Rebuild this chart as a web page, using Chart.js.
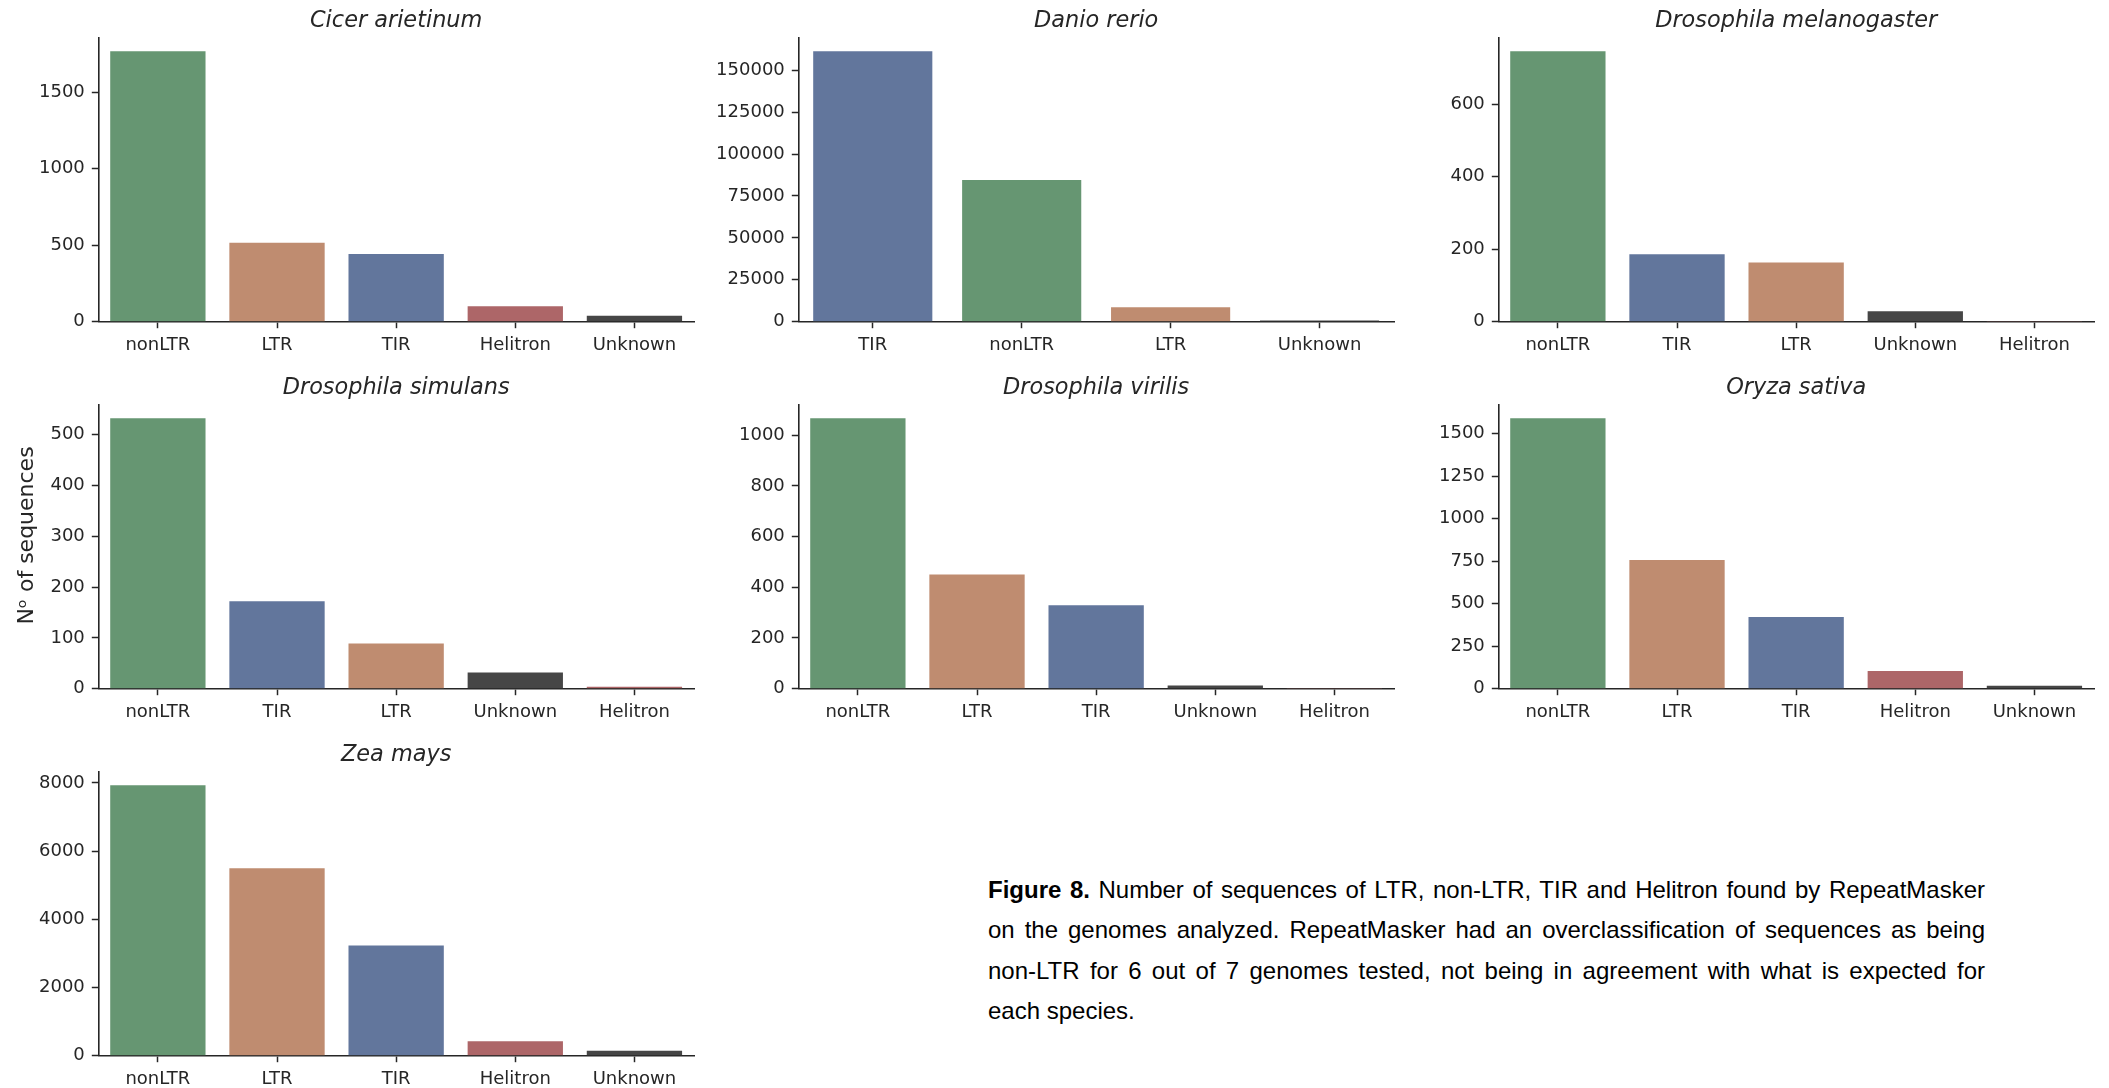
<!DOCTYPE html>
<html>
<head>
<meta charset="utf-8">
<script src="https://cdn.jsdelivr.net/npm/chart.js@4.4.1/dist/chart.umd.min.js"></script>
<style>
  html, body { margin: 0; padding: 0; background: #fff; overflow: hidden; width: 2109px; height: 1088px; }
  .panel { position: absolute; }
  #caption {
    position: absolute; left: 988px; top: 870px; width: 997px;
    font-family: 'Liberation Sans', Arial, sans-serif; font-size: 24px; line-height: 40.3px; color: #000;
  }
  #caption .ln { text-align: justify; text-align-last: justify; }
  #caption .last { text-align: left; }
</style>
</head>
<body>
<canvas class="panel" id="p1" width="700" height="366" style="left:0px;top:0px"></canvas>
<canvas class="panel" id="p2" width="700" height="366" style="left:700px;top:0px"></canvas>
<canvas class="panel" id="p3" width="700" height="366" style="left:1400px;top:0px"></canvas>
<canvas class="panel" id="p4" width="700" height="366" style="left:0px;top:367px"></canvas>
<canvas class="panel" id="p5" width="700" height="366" style="left:700px;top:367px"></canvas>
<canvas class="panel" id="p6" width="700" height="366" style="left:1400px;top:367px"></canvas>
<canvas class="panel" id="p7" width="700" height="366" style="left:0px;top:734px"></canvas>

<div id="caption">
  <div class="ln"><b>Figure 8.</b> Number of sequences of LTR, non-LTR, TIR and Helitron found by RepeatMasker</div>
  <div class="ln">on the genomes analyzed. RepeatMasker had an overclassification of sequences as being</div>
  <div class="ln">non-LTR for 6 out of 7 genomes tested, not being in agreement with what is expected for</div>
  <div class="last">each species.</div>
</div>

<script>
// ---- Counts of repeat sequences per class, one panel per species ----
const cicerLabels = ['nonLTR', 'LTR', 'TIR', 'Helitron', 'Unknown'];
const cicerCounts = [1769, 516, 443, 101, 39];
const cicerTicks = [0, 500, 1000, 1500];

const danioLabels = ['TIR', 'nonLTR', 'LTR', 'Unknown'];
const danioCounts = [161300, 84500, 8600, 700];
const danioTicks = [0, 25000, 50000, 75000, 100000, 125000, 150000];

const dmelLabels = ['nonLTR', 'TIR', 'LTR', 'Unknown', 'Helitron'];
const dmelCounts = [746, 186, 163, 29, 2];
const dmelTicks = [0, 200, 400, 600];

const dsimLabels = ['nonLTR', 'TIR', 'LTR', 'Unknown', 'Helitron'];
const dsimCounts = [532, 172, 89, 32, 4];
const dsimTicks = [0, 100, 200, 300, 400, 500];

const dvirLabels = ['nonLTR', 'LTR', 'TIR', 'Unknown', 'Helitron'];
const dvirCounts = [1067, 450, 329, 13, 1];
const dvirTicks = [0, 200, 400, 600, 800, 1000];

const oryzaLabels = ['nonLTR', 'LTR', 'TIR', 'Helitron', 'Unknown'];
const oryzaCounts = [1590, 757, 422, 104, 18];
const oryzaTicks = [0, 250, 500, 750, 1000, 1250, 1500];

const zeaLabels = ['nonLTR', 'LTR', 'TIR', 'Helitron', 'Unknown'];
const zeaCounts = [7932, 5494, 3231, 423, 147];
const zeaTicks = [0, 2000, 4000, 6000, 8000];

const yAxisTitle = 'N\u1D52 of sequences';

// ---- Styling ----
const PALETTE = {
  nonLTR: '#669672',
  LTR: '#BF8C70',
  TIR: '#62769C',
  Helitron: '#AD6668',
  Unknown: '#464646'
};
const FONT = "'DejaVu Sans', sans-serif";
const INK = '#262626';
const PANEL_W = 700, PANEL_H = 366;
const AREA_LEFT = 98.3, AREA_RIGHT = 694, AREA_BOTTOM = 321.7;

// rotated shared y label, drawn on the middle-left panel
const sideLabel = {
  id: 'sideLabel',
  afterDraw(chart) {
    const ctx = chart.ctx;
    ctx.save();
    ctx.font = '22px ' + FONT;
    ctx.fillStyle = INK;
    ctx.textAlign = 'center';
    ctx.textBaseline = 'alphabetic';
    ctx.translate(33, 535.5 - 367);
    ctx.rotate(-Math.PI / 2);
    ctx.fillText(yAxisTitle, 0, 0);
    ctx.restore();
  }
};

function axisLook() {
  return {
    grid: { offset: false, drawOnChartArea: false, drawTicks: true, tickLength: 6.5, tickWidth: 1.5, color: INK },
    border: { display: true, color: INK, width: 1.6 }
  };
}

function drawPanel(id, title, labels, counts, tickValues, extra) {
  const canvas = document.getElementById(id);
  return new Chart(canvas, {
    type: 'bar',
    data: {
      labels: labels,
      datasets: [{
        data: counts,
        backgroundColor: labels.map(l => PALETTE[l]),
        borderWidth: 0,
        barPercentage: 0.8,
        categoryPercentage: 1.0
      }]
    },
    options: {
      responsive: false,
      animation: false,
      devicePixelRatio: 1,
      layout: { padding: { left: 0, right: PANEL_W - AREA_RIGHT, top: 0, bottom: 0 } },
      plugins: {
        legend: { display: false },
        tooltip: { enabled: false },
        title: {
          display: true,
          text: title,
          fullSize: false,
          color: INK,
          font: { family: FONT, size: 22.4, style: 'italic', weight: 'normal', lineHeight: 1.2 },
          padding: { top: 7.6, bottom: 3.2 }
        }
      },
      scales: {
        x: Object.assign(axisLook(), {
          offset: true,
          ticks: { color: INK, font: { family: FONT, size: 18 }, padding: 6.5, maxRotation: 0, autoSkip: false },
          afterFit: s => { s.height = PANEL_H - AREA_BOTTOM; }
        }),
        y: Object.assign(axisLook(), {
          min: 0,
          max: Math.max(...counts) * 1.05,
          afterBuildTicks: s => { s.ticks = tickValues.map(v => ({ value: v })); },
          ticks: {
            padding: 7,
            color: INK,
            font: { family: FONT, size: 18 },
            callback: v => String(v)
          },
          afterFit: s => { s.width = AREA_LEFT; }
        })
      }
    },
    plugins: extra || []
  });
}

drawPanel('p1', 'Cicer arietinum', cicerLabels, cicerCounts, cicerTicks);
drawPanel('p2', 'Danio rerio', danioLabels, danioCounts, danioTicks);
drawPanel('p3', 'Drosophila melanogaster', dmelLabels, dmelCounts, dmelTicks);
drawPanel('p4', 'Drosophila simulans', dsimLabels, dsimCounts, dsimTicks, [sideLabel]);
drawPanel('p5', 'Drosophila virilis', dvirLabels, dvirCounts, dvirTicks);
drawPanel('p6', 'Oryza sativa', oryzaLabels, oryzaCounts, oryzaTicks);
drawPanel('p7', 'Zea mays', zeaLabels, zeaCounts, zeaTicks);
</script>
</body>
</html>
